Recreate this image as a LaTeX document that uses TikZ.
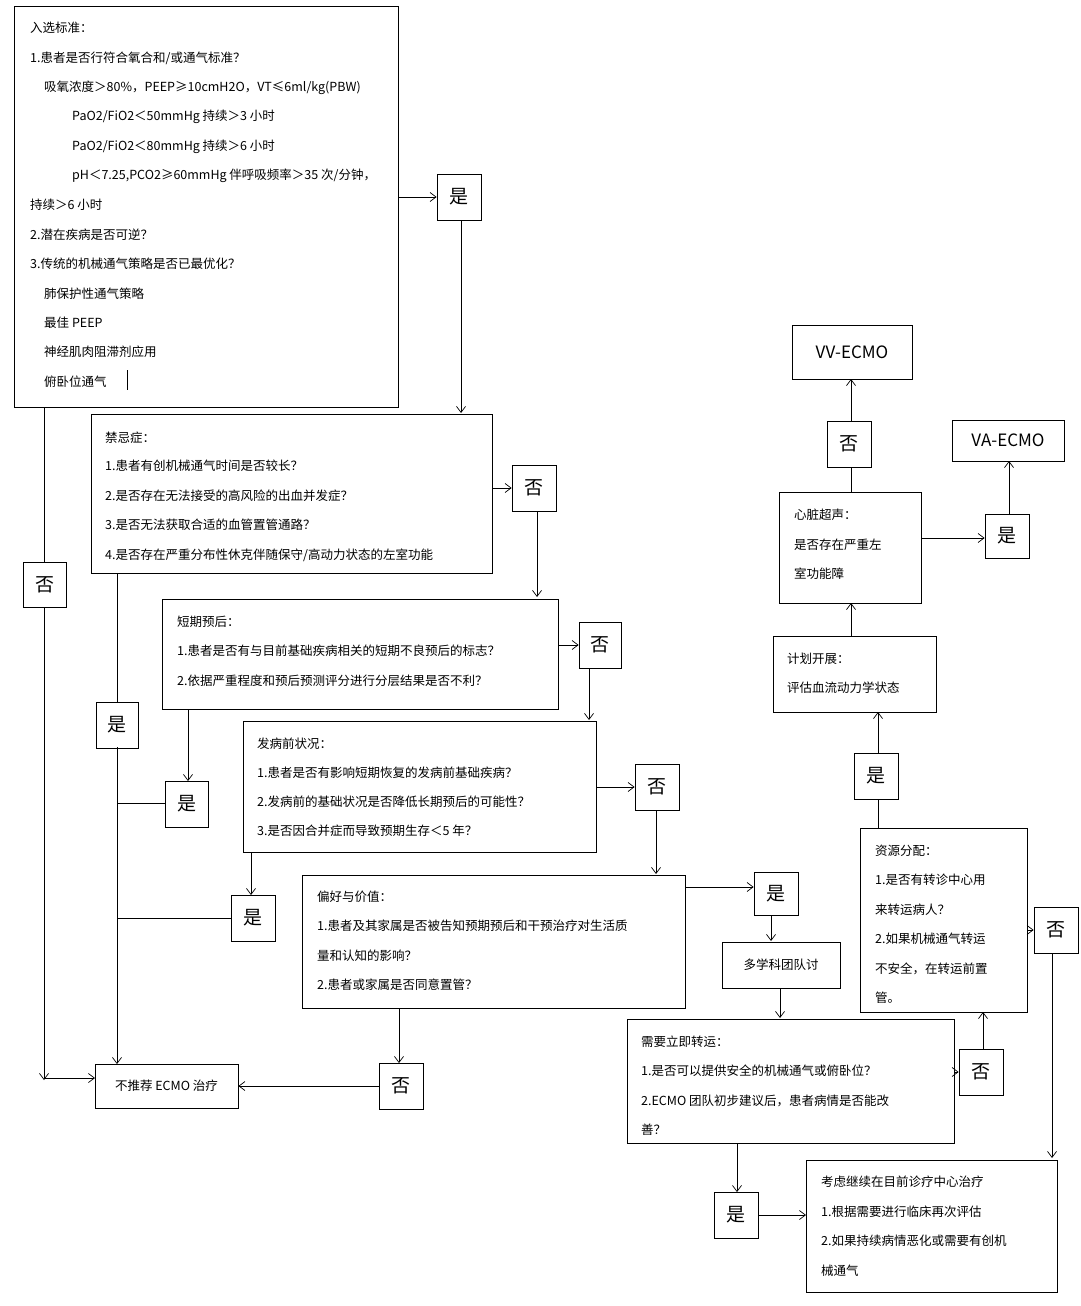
\documentclass[tikz,border=0pt]{standalone}
\usepackage{fontspec}
\setmainfont{Noto Sans CJK SC}
\usetikzlibrary{arrows.meta}
\begin{document}
\begin{tikzpicture}[x=1pt,y=-1pt,
 bx/.style={draw,line width=0.8pt},
 t/.style={anchor=west,inner sep=0pt,font=\fontsize{12.5}{14}\selectfont},
 yn/.style={draw,line width=0.8pt,minimum width=44pt,minimum height=46pt,inner sep=0pt,font=\fontsize{19}{21}\selectfont},
 ar/.style={-{Straight Barb[length=6pt,width=9pt]},line width=0.7pt},
 ln/.style={line width=0.7pt}]
\useasboundingbox (0,0) rectangle (1080,1306);
\fill[white] (0,0) rectangle (1080,1306);
% box 1
\draw[bx] (14,6) rectangle (398,407);
\node[t] at (30,28) {入选标准：};
\node[t] at (30,58) {1.患者是否行符合氧合和/或通气标准？};
\node[t] at (44,88) {吸氧浓度＞80\%，PEEP≥10cmH2O，VT≤6ml/kg(PBW)};
\node[t] at (72,117) {PaO2/FiO2＜50mmHg 持续＞3 小时};
\node[t] at (72,147) {PaO2/FiO2＜80mmHg 持续＞6 小时};
\node[t] at (72,176) {pH＜7.25,PCO2≥60mmHg 伴呼吸频率＞35 次/分钟，};
\node[t] at (30,205) {持续＞6 小时};
\node[t] at (30,235) {2.潜在疾病是否可逆？};
\node[t] at (30,264) {3.传统的机械通气策略是否已最优化？};
\node[t] at (44,294) {肺保护性通气策略};
\node[t] at (44,323) {最佳 PEEP};
\node[t] at (44,352) {神经肌肉阻滞剂应用};
\node[t] at (44,382) {俯卧位通气};
\draw[ln] (127,370)--(127,390);
\node[yn] (y1) at (459,197) {是};
\draw[ar] (398,197)--(y1.west);
\draw[ar] (461,220)--(461,413);
% contraindications
\draw[bx] (91,414) rectangle (492,573);
\node[t] at (105,438) {禁忌症：};
\node[t] at (105,466) {1.患者有创机械通气时间是否较长？};
\node[t] at (105,496) {2.是否存在无法接受的高风险的出血并发症？};
\node[t] at (105,525) {3.是否无法获取合适的血管置管通路？};
\node[t] at (105,555) {4.是否存在严重分布性休克伴随保守/高动力状态的左室功能};
\node[yn] (n1) at (534,488) {否};
\draw[ar] (492,488)--(n1.west);
\draw[ar] (537,511)--(537,597);
% short-term prognosis
\draw[bx] (162,599) rectangle (558,709);
\node[t] at (177,622) {短期预后：};
\node[t] at (177,651) {1.患者是否有与目前基础疾病相关的短期不良预后的标志？};
\node[t] at (177,681) {2.依据严重程度和预后预测评分进行分层结果是否不利？};
\node[yn,minimum width=42pt] (n2) at (600,645) {否};
\draw[ar] (558,645)--(n2.west);
\draw[ar] (589,668)--(589,720);
% pre-onset
\draw[bx] (243,721) rectangle (596,852);
\node[t] at (257,744) {发病前状况：};
\node[t] at (257,773) {1.患者是否有影响短期恢复的发病前基础疾病？};
\node[t] at (257,802) {2.发病前的基础状况是否降低长期预后的可能性？};
\node[t] at (257,831) {3.是否因合并症而导致预期生存＜5 年？};
\node[yn] (n3) at (657,787) {否};
\draw[ar] (596,787)--(n3.west);
\draw[ar] (656,810)--(656,874);
% preferences
\draw[bx] (302,875) rectangle (685,1008);
\node[t] at (317,897) {偏好与价值：};
\node[t] at (317,926) {1.患者及其家属是否被告知预期预后和干预治疗对生活质};
\node[t] at (317,956) {量和认知的影响？};
\node[t] at (317,985) {2.患者或家属是否同意置管？};
\node[yn,minimum height=43pt] (y2) at (776,894) {是};
\draw[ar] (685,887)--(y2.west|-0,887);
\draw[ar] (771,916)--(771,941);
\node[bx,minimum width=118pt,minimum height=46pt,inner sep=0pt,font=\fontsize{12.5}{14}\selectfont] (mdt) at (781,965) {多学科团队讨};
\draw[ar] (780,988)--(780,1018);
% transfer
\draw[bx] (627,1019) rectangle (954,1143);
\node[t] at (641,1042) {需要立即转运：};
\node[t] at (641,1071) {1.是否可以提供安全的机械通气或俯卧位？};
\node[t] at (641,1101) {2.ECMO 团队初步建议后，患者病情是否能改};
\node[t] at (641,1130) {善？};
\node[yn] (n4) at (981,1072) {否};
\draw[ar] (954,1072)--(n4.west);
\draw[ar] (983,1049)--(983,1012);
% resources
\draw[bx] (860,828) rectangle (1027,1012);
\node[t] at (875,851) {资源分配：};
\node[t] at (875,880) {1.是否有转诊中心用};
\node[t] at (875,910) {来转运病人？};
\node[t] at (875,939) {2.如果机械通气转运};
\node[t] at (875,969) {不安全，在转运前置};
\node[t] at (875,998) {管。};
\node[yn] (n5) at (1056,930) {否};
\draw[ar] (1027,930)--(n5.west);
\draw[ar] (1052,953)--(1052,1158);
\node[yn] (y3) at (876,776) {是};
\draw[ln] (878,828)--(878,799);
\draw[ar] (878,753)--(878,712);
% plan
\draw[bx] (773,636) rectangle (936,712);
\node[t] at (787,659) {计划开展：};
\node[t] at (787,688) {评估血流动力学状态};
\draw[ar] (851,636)--(851,603);
% echo
\draw[bx] (779,492) rectangle (921,603);
\node[t] at (794,515) {心脏超声：};
\node[t] at (794,545) {是否存在严重左};
\node[t] at (794,574) {室功能障};
\node[yn] (n6) at (849,444) {否};
\draw[ln] (851,492)--(851,467);
\draw[ar] (851,421)--(851,379);
\node[bx,minimum width=120pt,minimum height=54pt,inner sep=0pt,font=\fontsize{17}{19}\selectfont] (vv) at (852,352) {VV-ECMO};
\node[yn,minimum height=44pt] (y4) at (1007,536) {是};
\draw[ar] (921,538)--(y4.west|-0,538);
\draw[ar] (1009,514)--(1009,461);
\node[bx,minimum width=112pt,minimum height=41pt,inner sep=0pt,font=\fontsize{17}{19}\selectfont] (va) at (1008,440.5) {VA-ECMO};
% bottom right
\node[yn] (y5) at (736,1215) {是};
\draw[ar] (737,1143)--(737,1192);
\draw[ar] (758,1215)--(806,1215);
\draw[bx] (806,1160) rectangle (1057,1292);
\node[t] at (821,1182) {考虑继续在目前诊疗中心治疗};
\node[t] at (821,1212) {1.根据需要进行临床再次评估};
\node[t] at (821,1241) {2.如果持续病情恶化或需要有创机};
\node[t] at (821,1271) {械通气};
% bottom left
\node[bx,minimum width=143pt,minimum height=44pt,inner sep=0pt,font=\fontsize{12.5}{14}\selectfont] (no) at (166.5,1086) {不推荐 ECMO 治疗};
\node[yn] (n7) at (401,1086) {否};
\draw[ar] (399,1008)--(399,1063);
\draw[ar] (n7.west)--(no.east);
\node[yn,minimum width=43pt,minimum height=45pt] (n8) at (44.5,584.5) {否};
\draw[ln] (44,407)--(44,562);
\draw[ar] (44,607)--(44,1080);
\draw[ar] (44,1078)--(95,1078);
\node[yn,minimum width=42pt] (y6) at (117,725) {是};
\draw[ln] (117,573)--(117,703);
\draw[ar] (117,747)--(117,1064);
\node[yn,minimum width=43pt] (y7) at (186.5,804) {是};
\draw[ar] (188,709)--(188,781);
\draw[ln] (165,803)--(117,803);
\node[yn] (y8) at (253,918) {是};
\draw[ar] (251,852)--(251,895);
\draw[ln] (231,918)--(117,918);
\end{tikzpicture}
\end{document}
